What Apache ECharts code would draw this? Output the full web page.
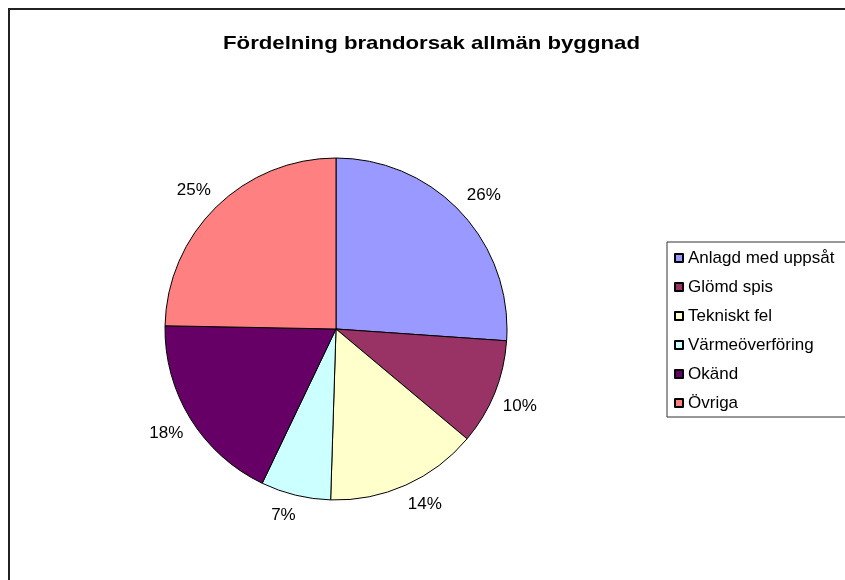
<!DOCTYPE html>
<html>
<head>
<meta charset="utf-8">
<script src="https://cdn.jsdelivr.net/npm/echarts@6/dist/echarts.min.js"></script>
<style>
html,body{margin:0;padding:0;background:#fff;}
#chart{width:845px;height:580px;}
</style>
</head>
<body>
<div id="chart"></div>
<script>
const titleText = 'Fördelning brandorsak allmän byggnad';
const categories = ['Anlagd med uppsåt', 'Glömd spis', 'Tekniskt fel', 'Värmeöverföring', 'Okänd', 'Övriga'];
const values = [26.1, 10.0, 14.4, 6.6, 18.2, 24.7];
const colors = ['#9999FF', '#993366', '#FFFFCC', '#CCFFFF', '#660066', '#FF8080'];

const FONT = 'Liberation Sans, Arial, sans-serif';
const total = values.reduce((a, b) => a + b, 0);
let cum = 0;
// whether each slice's mid-angle lies in the lower half of the pie
const lowerHalf = values.map(v => {
  const mid = (cum + v / 2) / total * Math.PI * 2; // clockwise from top
  cum += v;
  return Math.cos(mid) < 0;
});
const pieData = categories.map((c, i) => ({ name: c, value: values[i], itemStyle: { color: colors[i] } }));

const chart = echarts.init(document.getElementById('chart'), null, { renderer: 'canvas' });
chart.setOption({
  backgroundColor: '#fff',
  animation: false,
  graphic: [{
    type: 'text',
    x: 431.5,
    y: 34.5,
    scaleX: 1.2,
    silent: true,
    style: {
      text: titleText,
      x: 0, y: 0,
      align: 'center',
      verticalAlign: 'top',
      fontFamily: FONT, fontSize: 18.5, fontWeight: 'bold', fill: '#000'
    }
  }, {
    type: 'rect',
    shape: { x: 9, y: 9, width: 1000, height: 1000 },
    style: { fill: 'none', stroke: '#222', lineWidth: 2 },
    silent: true, z: 100
  }],
  legend: {
    orient: 'vertical',
    left: 667,
    top: 242,
    data: categories,
    icon: 'rect',
    itemWidth: 8,
    itemHeight: 8,
    itemGap: 11,
    padding: [7, 300, 5, 7],
    borderColor: '#333',
    borderWidth: 1,
    textStyle: { fontFamily: FONT, fontSize: 17, color: '#000', lineHeight: 18 }
  },
  series: [{
    type: 'pie',
    center: [336, 329],
    radius: 171,
    startAngle: 90,
    clockwise: true,
    silent: true,
    avoidLabelOverlap: false,
    data: pieData,
    itemStyle: { borderColor: '#000', borderWidth: 1 },
    label: {
      show: true,
      position: 'outside',
      alignTo: 'none',
      distanceToLabelLine: -3,
      formatter: p => {
        const t = Math.round(p.percent) + '%';
        return lowerHalf[p.dataIndex] ? '\n' + t : t + '\n';
      },
      fontFamily: FONT, fontSize: 17, color: '#000', lineHeight: 17
    },
    labelLine: { show: false, length: 12, length2: 0 },
    emphasis: { disabled: true }
  }]
});
</script>
</body>
</html>
